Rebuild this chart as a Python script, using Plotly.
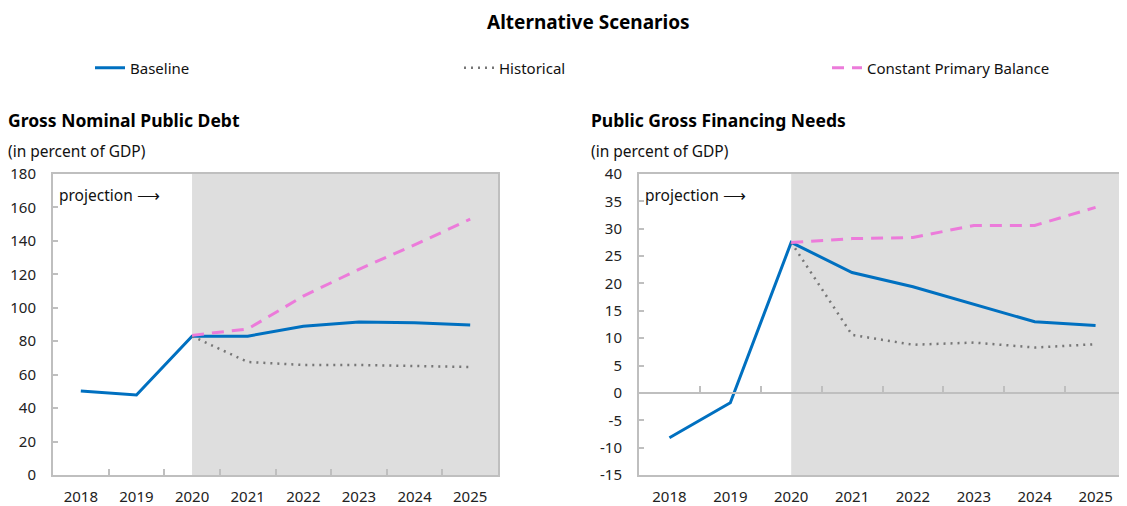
import plotly.graph_objects as go

years = ["2018", "2019", "2020", "2021", "2022", "2023", "2024", "2025"]
proj_start = "2020"

debt_baseline = [50.2, 47.8, 83.0, 83.0, 89.0, 91.5, 91.0, 89.7]
debt_historical = [None, None, 83.0, 67.6, 65.8, 65.8, 65.2, 64.6]
debt_cpb = [None, None, 83.5, 87.3, 107.0, 123.0, 137.6, 153.0]

gfn_baseline = [-8.2, -1.8, 27.5, 22.0, 19.4, 16.2, 13.0, 12.3]
gfn_historical = [None, None, 27.5, 10.6, 8.8, 9.2, 8.3, 8.9]
gfn_cpb = [None, None, 27.5, 28.2, 28.4, 30.6, 30.6, 33.9]

left_ticks = list(range(0, 181, 20))
right_ticks = list(range(-15, 41, 5))

# page body has an 8px margin: figure is laid out in page pixels shifted by it
OFF = 8
W, H = 1127 - OFF, 506 - OFF


def px(x):
    return (x - OFF) / W


def py(y):
    return 1 - (y - OFF) / H


FONT = "Noto Sans"
AXC = "#bfbfbf"
BLUE = "#0070C0"
GREY = "#767676"
PINK = "#EC7BDA"
SHADE = "#DEDEDE"

left_dom = [px(53), px(498)]
right_dom = [px(639), min(1.0, px(1126))]
ydom = [py(475), py(174)]

fig = go.Figure()


def add_series(xa, ya, base, hist, cpb, show):
    fig.add_trace(go.Scatter(x=years, y=base, mode="lines", name="Baseline",
                             line=dict(color=BLUE, width=3), xaxis=xa, yaxis=ya,
                             showlegend=show, legend="legend"))
    fig.add_trace(go.Scatter(x=years, y=hist, mode="lines", name="Historical",
                             line=dict(color=GREY, width=2.5, dash="2px,5px"), xaxis=xa, yaxis=ya,
                             showlegend=show, legend="legend2"))
    fig.add_trace(go.Scatter(x=years, y=cpb, mode="lines", name="Constant Primary Balance",
                             line=dict(color=PINK, width=3, dash="12px,8px"), xaxis=xa, yaxis=ya,
                             showlegend=show, legend="legend3"))


add_series("x", "y", debt_baseline, debt_historical, debt_cpb, True)
add_series("x2", "y2", gfn_baseline, gfn_historical, gfn_cpb, False)

TICKFONT = dict(family=FONT, size=15, color="#222")
xcommon = dict(type="category", categoryorder="array", categoryarray=years,
               range=[-0.5, len(years) - 0.5], showgrid=False, zeroline=False,
               showline=True, linecolor=AXC, linewidth=2, mirror=True, automargin=False,
               tickfont=TICKFONT, ticklabelstandoff=7, fixedrange=True)
ycommon = dict(showgrid=False, zeroline=False, showline=True, linecolor=AXC, linewidth=2,
               mirror=True, ticks="inside", ticklen=5, tickcolor=AXC, tickwidth=2,
               automargin=False, ticklabelstandoff=12, tickfont=TICKFONT, domain=ydom,
               fixedrange=True)

fig.update_layout(
    xaxis=dict(**xcommon, domain=left_dom, anchor="y", ticks="inside", tickson="boundaries",
               ticklen=6, tickcolor=AXC, tickwidth=2),
    yaxis=dict(**ycommon, anchor="x", range=[left_ticks[0], left_ticks[-1]],
               tickvals=left_ticks, ticktext=[str(v) for v in left_ticks]),
    xaxis2=dict(**xcommon, domain=right_dom, anchor="y2", ticks=""),
    yaxis2=dict(**ycommon, anchor="x2", range=[right_ticks[0], right_ticks[-1]],
                tickvals=right_ticks, ticktext=[str(v) for v in right_ticks]),
)

# zero-line axis with boundary ticks for the right panel
rmin, rmax = right_ticks[0], right_ticks[-1]
zero_pos = ydom[0] + (0 - rmin) / (rmax - rmin) * (ydom[1] - ydom[0])
fig.update_layout(
    xaxis3=dict(overlaying="x2", domain=right_dom, anchor="free", position=zero_pos,
                range=[-0.5, len(years) - 0.5], tickvals=[i + 0.5 for i in range(len(years) - 1)],
                showticklabels=False, ticks="inside", ticklen=6, tickcolor=AXC, tickwidth=2,
                showline=True, linecolor=AXC, linewidth=2, showgrid=False, zeroline=False,
                automargin=False, fixedrange=True)
)
fig.add_trace(go.Scatter(x=[None], y=[None], xaxis="x3", yaxis="y2", showlegend=False,
                         hoverinfo="skip"))

# projection shading
start_idx = years.index(proj_start)
for xr, yr in (("x", "y domain"), ("x2", "y2 domain")):
    fig.add_shape(type="rect", xref=xr, yref=yr, x0=start_idx, x1=len(years) - 0.5,
                  y0=0, y1=1, fillcolor=SHADE, line=dict(width=0), layer="below")

# projection labels
for xr, yr in (("x domain", "y domain"), ("x2 domain", "y2 domain")):
    fig.add_annotation(xref=xr, yref=yr, x=0, xshift=4, y=0.93, xanchor="left", yanchor="middle",
                       text="projection ⟶", showarrow=False,
                       font=dict(family=FONT, size=15.5, color="#111"))

# titles
fig.add_annotation(xref="paper", yref="paper", x=px(588), y=py(22), xanchor="center",
                   yanchor="middle", text="<b>Alternative Scenarios</b>", showarrow=False,
                   font=dict(family=FONT, size=19, color="#000"))
for x0, t in ((6, "Gross Nominal Public Debt"), (589, "Public Gross Financing Needs")):
    fig.add_annotation(xref="paper", yref="paper", x=px(x0), y=py(120), xanchor="left",
                       yanchor="middle", text=f"<b>{t}</b>", showarrow=False,
                       font=dict(family=FONT, size=17.5, color="#000"))
    fig.add_annotation(xref="paper", yref="paper", x=px(x0), y=py(151), xanchor="left",
                       yanchor="middle", text="(in percent of GDP)", showarrow=False,
                       font=dict(family=FONT, size=15.5, color="#111"))

leg_common = dict(orientation="h", yanchor="middle", xanchor="left", y=py(68),
                  font=dict(family=FONT, size=15, color="#111"), bgcolor="rgba(0,0,0,0)")
fig.update_layout(
    width=W, height=H, margin=dict(l=0, r=0, t=0, b=0),
    paper_bgcolor="white", plot_bgcolor="white",
    showlegend=True,
    legend=dict(**leg_common, x=px(90)),
    legend2=dict(**leg_common, x=px(459)),
    legend3=dict(**leg_common, x=px(827)),
)

fig.write_html("out.html")
